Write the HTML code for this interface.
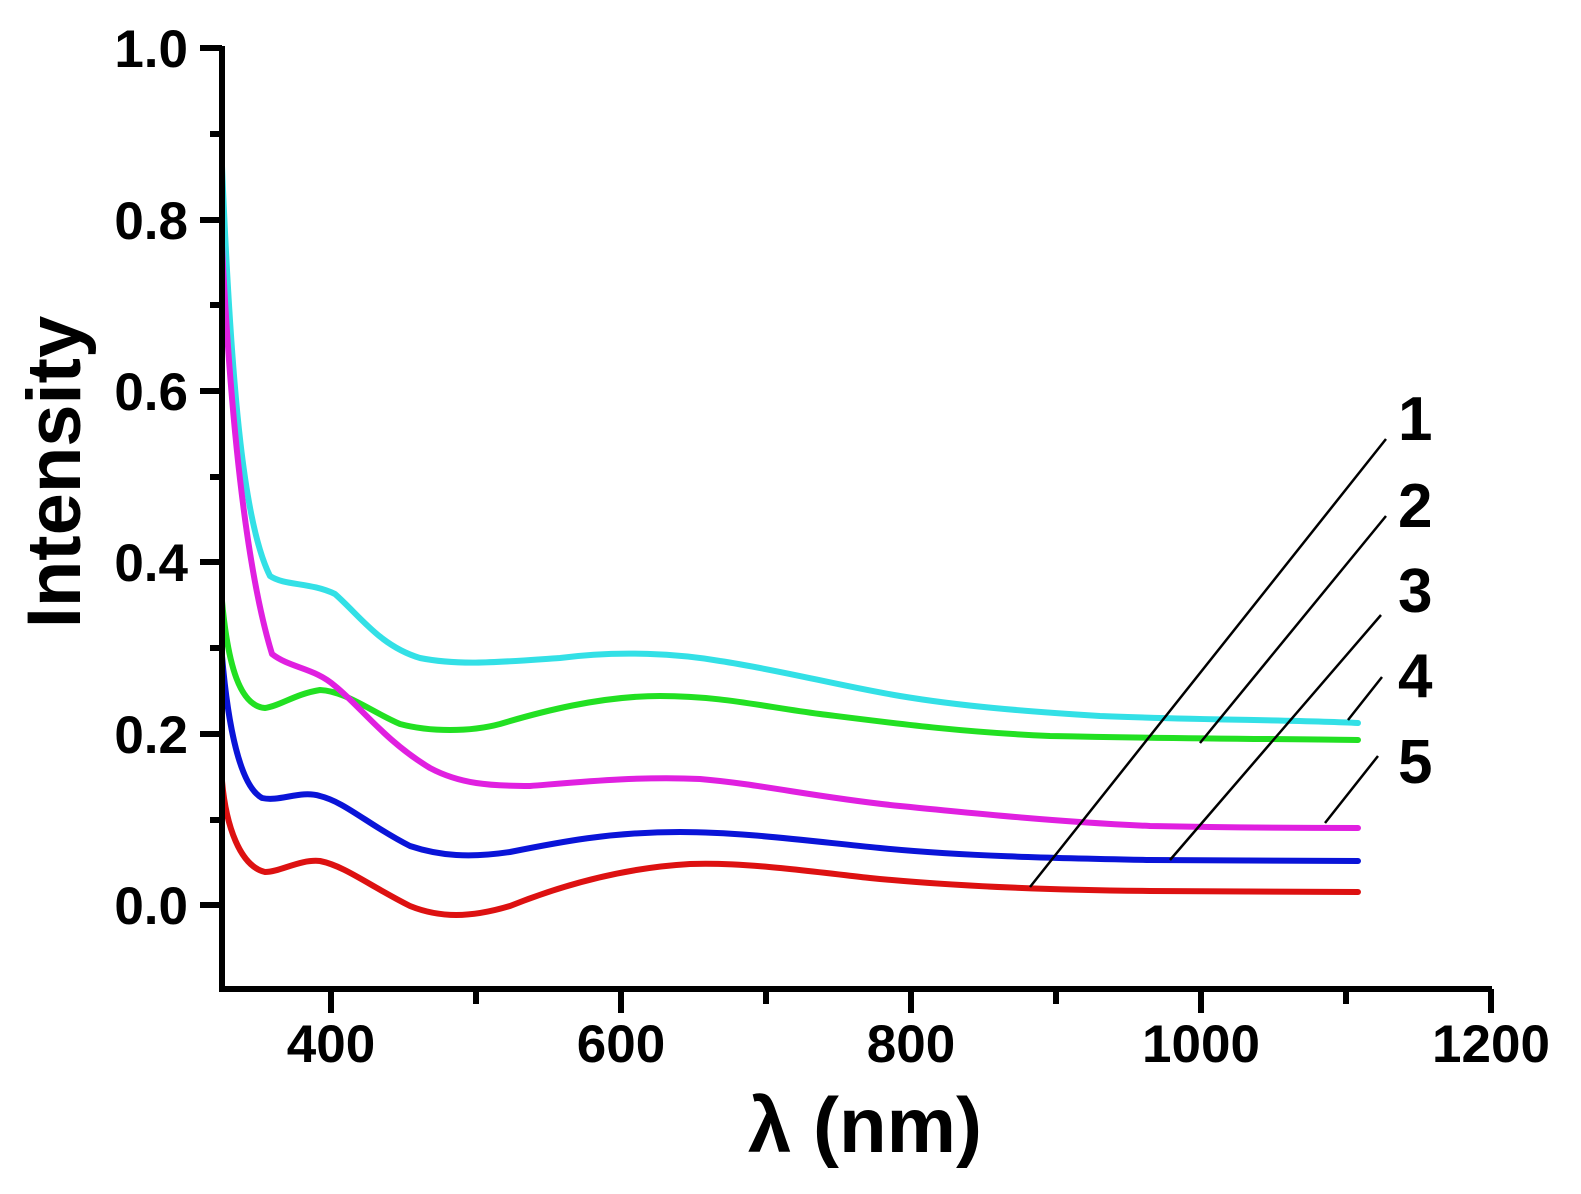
<!DOCTYPE html>
<html><head><meta charset="utf-8"><style>
html,body{margin:0;padding:0;background:#fff}
svg{display:block}
text{font-family:"Liberation Sans",Arial,sans-serif;font-weight:bold;fill:#000}
</style></head><body>
<svg width="1581" height="1194" viewBox="0 0 1581 1194" xmlns="http://www.w3.org/2000/svg">
<g fill="none" stroke-width="6" stroke-linejoin="round" stroke-linecap="round" transform="translate(0,6)">
<path stroke="#33e0e6" d="M222,160 C232,400 245,520 270,570 C285,580 310,576 335,588 C360,610 380,640 420,652 C460,660 500,656 560,652 C620,644 680,648 720,655 C780,664 840,680 900,690 C960,700 1020,705 1100,710 C1200,714 1300,714 1358,717"/>
<path stroke="#22e022" d="M222,595 C228,660 240,700 265,702 C280,700 295,688 320,684 C345,685 370,705 400,718 C430,726 470,726 500,718 C540,706 600,690 660,690 C720,690 760,700 820,708 C900,718 960,726 1050,730 C1200,733 1300,733 1358,734"/>
<path stroke="#e020e0" d="M222,240 C230,400 245,560 272,648 C290,662 315,662 335,680 C360,700 385,735 430,762 C460,778 490,780 530,780 C580,776 640,770 700,773 C760,778 820,792 900,800 C980,808 1060,816 1150,820 C1250,822 1320,822 1358,822"/>
<path stroke="#0a14d8" d="M222,650 C228,720 240,780 262,792 C280,796 300,784 320,790 C345,796 370,820 410,840 C440,850 470,852 510,846 C560,836 610,826 680,826 C740,826 800,834 880,842 C960,850 1050,852 1150,854 C1250,855 1320,855 1358,855"/>
<path stroke="#dd1111" d="M222,775 C226,820 240,860 265,866 C280,866 300,853 320,855 C345,860 370,880 410,900 C440,912 470,912 510,900 C560,880 620,862 690,858 C740,856 800,864 870,872 C950,880 1050,884 1150,885 C1250,886 1320,886 1358,886"/>
</g>
<g stroke="#000" stroke-width="2.5">
<line x1="1030" y1="887" x2="1386" y2="439"/>
<line x1="1200" y1="743" x2="1386" y2="516"/>
<line x1="1170" y1="860" x2="1381" y2="615"/>
<line x1="1348" y1="720" x2="1382" y2="677"/>
<line x1="1325" y1="823" x2="1378" y2="756"/>
</g>
<g stroke="#000" stroke-width="6" fill="none">
<path d="M222,46 V989 H1492"/>
<path d="M200,48H222 M200,220H222 M200,391H222 M200,562H222 M200,734H222 M200,905H222"/>
<path d="M210,134H222 M210,305H222 M210,477H222 M210,648H222 M210,820H222"/>
<path d="M331,989V1013 M621,989V1013 M911,989V1013 M1201,989V1013 M1491,989V1013"/>
<path d="M476,989V1004 M766,989V1004 M1056,989V1004 M1346,989V1004"/>
</g>
<g font-size="53" text-anchor="end">
<text x="188" y="67">1.0</text>
<text x="188" y="239">0.8</text>
<text x="188" y="410">0.6</text>
<text x="188" y="581">0.4</text>
<text x="188" y="753">0.2</text>
<text x="188" y="924">0.0</text>
</g>
<g font-size="53" text-anchor="middle">
<text x="331" y="1062">400</text>
<text x="621" y="1062">600</text>
<text x="911" y="1062">800</text>
<text x="1201" y="1062">1000</text>
<text x="1491" y="1062">1200</text>
</g>
<g font-size="62">
<text x="1398" y="440">1</text>
<text x="1398" y="527">2</text>
<text x="1398" y="612">3</text>
<text x="1398" y="697">4</text>
<text x="1398" y="783">5</text>
</g>
<text x="865" y="1152" font-size="78" text-anchor="middle">λ (nm)</text>
<text transform="translate(80,472) rotate(-90)" font-size="76" text-anchor="middle">Intensity</text>
</svg>
</body></html>
